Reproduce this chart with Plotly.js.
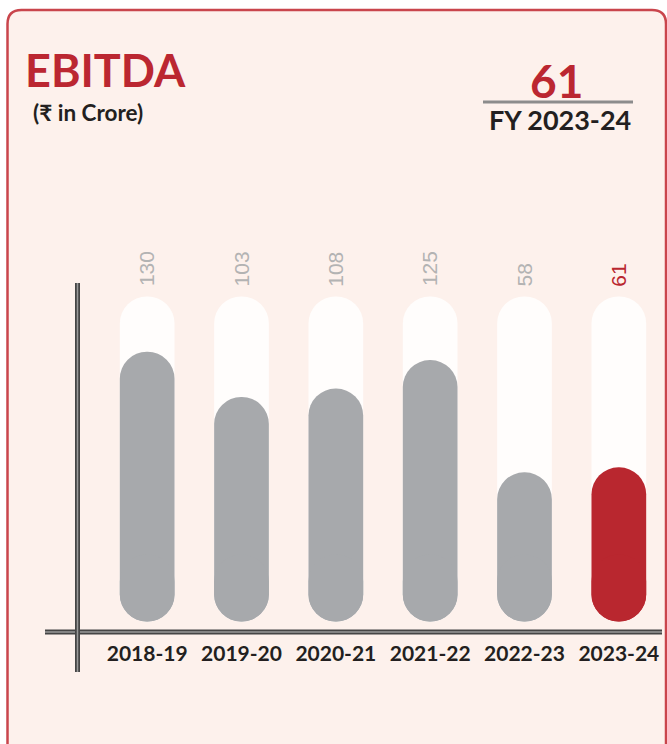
<!DOCTYPE html>
<html>
<head>
<meta charset="utf-8">
<script src="https://cdn.plot.ly/plotly-3.0.1.min.js"></script>
<style>html,body{margin:0;padding:0;background:#fff;}#chart{width:667px;height:744px;}</style>
</head>
<body>
<div id="chart"></div>
<script>
// ---- data ----
const categories = ["2018-19", "2019-20", "2020-21", "2021-22", "2022-23", "2023-24"];
const ebitda = [130, 103, 108, 125, 58, 61];
const valueLabels = ["130", "103", "108", "125", "58", "61"];
const titleText = "EBITDA";
const unitText = "(₹ in Crore)";
const highlightValue = "61";
const highlightYear = "FY 2023-24";

// ---- styling / geometry ----
const W = 667, H = 744;
const M = {l: 100, r: 1, t: 240, b: 112};
const PW = W - M.l - M.r, PH = H - M.t - M.b;
const BASE = -31;        // bottom of the pill bars (value units)
const CAP_TOP = 163;     // top of the pale background capsules
const CAP = 40;          // length of bottom rounding cap
const Y_RANGE = [-37.3, 196.7];
const GRAY = "#a7a9ac", RED = "#b9272f", WHITE = "#fffdfc";
const PANEL = "#fdf1ec", BORDER = "#c9454c", DARK = "#231f20";
const LABEL_GRAY = "#b3b3b3";

const last = categories.length - 1;
const barColors = categories.map((c, i) => i === last ? RED : GRAY);
const labelColors = categories.map((c, i) => i === last ? RED : LABEL_GRAY);

const xp = px => (px - M.l) / PW;
const yp = py => (M.t + PH - py) / PH;

function barPair(tops, color) {
  const up = {
    type: "bar", x: categories, y: tops.map(v => v - BASE), base: categories.map(() => BASE),
    width: 0.58, marker: {color: color, cornerradius: "50%", line: {width: 0}},
    hoverinfo: "skip", showlegend: false
  };
  const down = {
    type: "bar", x: categories, y: categories.map(() => -CAP), base: categories.map(() => BASE + CAP),
    width: 0.58, marker: {color: color, cornerradius: "50%", line: {width: 0}},
    hoverinfo: "skip", showlegend: false
  };
  return [up, down];
}

const traces = [
  ...barPair(categories.map(() => CAP_TOP), WHITE),
  ...barPair(ebitda, barColors)
];

// rounded panel path in paper coords
const pl = 7.5, pt = 10, pr = 666, pb = 800, rad = 14;
const panelPath =
  `M ${xp(pl)},${yp(pb)} L ${xp(pl)},${yp(pt + rad)} Q ${xp(pl)},${yp(pt)} ${xp(pl + rad)},${yp(pt)} ` +
  `L ${xp(pr - rad)},${yp(pt)} Q ${xp(pr)},${yp(pt)} ${xp(pr)},${yp(pt + rad)} L ${xp(pr)},${yp(pb)} Z`;

const shapes = [
  {type: "path", xref: "paper", yref: "paper", path: panelPath, fillcolor: PANEL,
   line: {color: BORDER, width: 2.5}, layer: "below"},
  // divider under highlight value
  {type: "line", xref: "paper", yref: "paper", x0: xp(483), x1: xp(633), y0: yp(102), y1: yp(102),
   line: {color: "#8c8c8c", width: 3}},
  // horizontal axis line (double look)
  {type: "line", xref: "paper", yref: "paper", x0: xp(45), x1: xp(662), y0: yp(632), y1: yp(632),
   line: {color: "#454545", width: 5}},
  {type: "line", xref: "paper", yref: "paper", x0: xp(45), x1: xp(662), y0: yp(632), y1: yp(632),
   line: {color: "#9a9a9a", width: 1.5}},
  // vertical axis line
  {type: "line", xref: "paper", yref: "paper", x0: xp(77.5), x1: xp(77.5), y0: yp(283), y1: yp(672),
   line: {color: "#454545", width: 5}},
  {type: "line", xref: "paper", yref: "paper", x0: xp(77.5), x1: xp(77.5), y0: yp(283), y1: yp(672),
   line: {color: "#9a9a9a", width: 1.5}}
];

const lato = (size, color) => ({family: "Lato, 'Open Sans', sans-serif", size: size, color: color, weight: 700});

const annotations = [
  {xref: "paper", yref: "paper", x: xp(23), y: yp(69.5), xanchor: "left", yanchor: "middle",
   text: titleText, showarrow: false, font: lato(45, "#bb2731")},
  {xref: "paper", yref: "paper", x: xp(31), y: yp(112), xanchor: "left", yanchor: "middle",
   text: unitText, showarrow: false, font: lato(22.5, DARK)},
  {xref: "paper", yref: "paper", x: xp(556), y: yp(80), xanchor: "center", yanchor: "middle",
   text: highlightValue, showarrow: false, font: lato(46, "#bb2731")},
  {xref: "paper", yref: "paper", x: xp(560), y: yp(119), xanchor: "center", yanchor: "middle",
   text: highlightYear, showarrow: false, font: lato(27, DARK)},
  ...categories.map((c, i) => ({
    x: c, y: CAP_TOP, xref: "x", yref: "y", xanchor: "center", yanchor: "bottom", yshift: 8,
    text: valueLabels[i], textangle: -90, showarrow: false,
    font: {family: "'Liberation Sans', Arial, sans-serif", size: 21, color: labelColors[i]}
  }))
];

const layout = {
  width: W, height: H, margin: M,
  paper_bgcolor: "#ffffff", plot_bgcolor: "rgba(0,0,0,0)",
  barmode: "overlay", bargap: 0.42,
  showlegend: false,
  xaxis: {type: "category", range: [-0.5, 5.5], showgrid: false, zeroline: false, showline: false,
          ticks: "", ticklabelstandoff: 7, tickfont: lato(21, DARK), fixedrange: true},
  yaxis: {range: Y_RANGE, visible: false, fixedrange: true},
  shapes: shapes, annotations: annotations
};

Plotly.newPlot("chart", traces, layout, {displayModeBar: false, staticPlot: true});
</script>
</body>
</html>
